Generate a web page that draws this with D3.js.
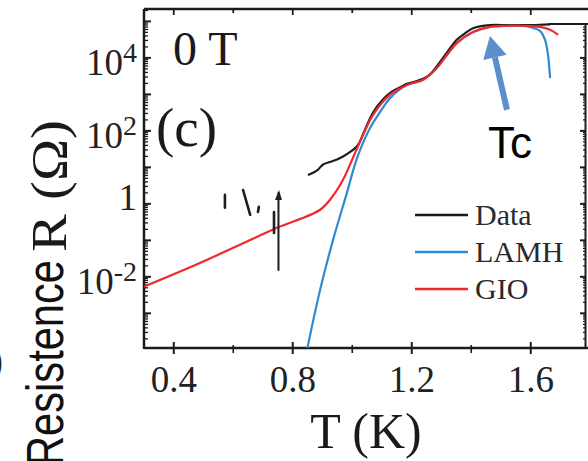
<!DOCTYPE html>
<html><head><meta charset="utf-8">
<script src="https://cdn.jsdelivr.net/npm/d3@7"></script>
<style>body{margin:0;background:#fff}svg{display:block}</style>
</head><body>
<svg id="c" width="588" height="461"></svg>
<script>
// ---- data (T in K, R in Ohm) ----
const dataT = [0.851,0.882,0.902,0.925,0.949,0.969,0.992,1.016,1.026,1.046,1.070,1.100,1.127,1.160,1.184,1.211,1.238,1.261,1.285,1.318,1.352,1.379,1.406,1.463,1.520,1.574,1.631,1.665];
const dataR = [6.2,8.3,12.0,14.0,16.5,19.8,26.0,38,52,125,320,680,1100,1550,1950,2250,2700,3500,6000,1.4e4,3.2e4,4.7e4,6.5e4,7.9e4,7.9e4,7.9e4,8.1e4,8.3e4];
const lamhT = [0.848,0.892,0.935,0.982,1.016,1.060,1.103,1.127,1.184,1.238,1.285,1.318,1.352,1.406,1.463,1.520,1.574,1.608,1.631,1.648,1.658,1.665];
const lamhR = [1e-4,4.4e-3,0.10,2.0,18,120,430,790,1820,2510,5370,1.2e4,2.57e4,5.1e4,7.1e4,7.6e4,7.6e4,6.6e4,5.5e4,3.1e4,1.2e4,2800];
const gioT = [0.300,0.488,0.623,0.747,0.892,0.935,0.969,0.992,1.026,1.070,1.127,1.184,1.238,1.285,1.318,1.352,1.406,1.463,1.520,1.574,1.631,1.665,1.692];
const gioR = [5.4e-3,2.4e-2,7.6e-2,0.22,0.69,1.66,4.6,11.7,50,275,980,1820,2510,5370,1.2e4,2.57e4,5.1e4,7.1e4,7.6e4,7.6e4,7.1e4,5.9e4,4.3e4];
// scattered low-T data strokes
const scatT1 = [0.572,0.633,0.683,0.737,0.752];
const scatT2 = [0.572,0.657,0.686,0.737,0.752];
const scatR1 = [0.78,2.4,0.60,0.16,0.0155];
const scatR2 = [1.78,0.50,0.83,0.60,2.0];
const xTicks = [0.4,0.8,1.2,1.6];
const xMinor = [0.6,1.0,1.4];
const xTopTicks = [0.4,0.6,0.8,1.0,1.2,1.4,1.6];
const yLabelExp = [4,2,0,-2];
const yMajorExp = [-3,-2,-1,0,1,2,3,4,5];
const legendNames = ["Data","LAMH","GIO"];
const legendColors = ["#1a1a1a","#2f8ad3","#ee2a2f"];
const arrowT = [1.520,1.463], arrowR = [380,4.0e4];

const svg = d3.select("#c");
const x = d3.scaleLinear().domain([0.3,1.8]).range([144,590.25]);
const y = d3.scaleLog().domain([Math.pow(10,-3.95),Math.pow(10,5.34)]).range([348,9]);
const axisCol = "#1c1c1c";
const serif = "'Liberation Serif','Times New Roman',serif";
const sans = "'Liberation Sans',Arial,sans-serif";

svg.append("defs").append("clipPath").attr("id","clip")
  .append("rect").attr("x",144).attr("y",9).attr("width",444).attr("height",339);

// frame lines
svg.append("line").attr("x1",144).attr("x2",588).attr("y1",9).attr("y2",9).attr("stroke",axisCol).attr("stroke-width",2.5);
svg.append("line").attr("x1",144).attr("x2",588).attr("y1",348).attr("y2",348).attr("stroke",axisCol).attr("stroke-width",2.5);
svg.append("line").attr("x1",144).attr("x2",144).attr("y1",9).attr("y2",349).attr("stroke",axisCol).attr("stroke-width",2.5);
// neighbouring panel frame at the right
svg.append("line").attr("x1",x(1.66)).attr("x2",588).attr("y1",24).attr("y2",24).attr("stroke",axisCol).attr("stroke-width",2.2);
svg.append("line").attr("x1",585.5).attr("x2",585.5).attr("y1",24).attr("y2",348).attr("stroke",axisCol).attr("stroke-width",2);

// y ticks (left, inward) major + minor
const minorY = [];
for (let e=-4;e<=5;e++) for (let m=2;m<=9;m++){const v=m*Math.pow(10,e); if(v>=y.domain()[0]&&v<=y.domain()[1]) minorY.push(v);}
svg.append("g").selectAll("line").data(yMajorExp).join("line")
  .attr("x1",144).attr("x2",151).attr("y1",d=>y(Math.pow(10,d))).attr("y2",d=>y(Math.pow(10,d)))
  .attr("stroke",axisCol).attr("stroke-width",2);
svg.append("g").selectAll("line").data(minorY).join("line")
  .attr("x1",144).attr("x2",148).attr("y1",d=>y(d)).attr("y2",d=>y(d))
  .attr("stroke",axisCol).attr("stroke-width",1.3);
// right neighbour ticks
svg.append("g").selectAll("line").data(yMajorExp.filter(d=>y(Math.pow(10,d))>26)).join("line")
  .attr("x1",580).attr("x2",586).attr("y1",d=>y(Math.pow(10,d))).attr("y2",d=>y(Math.pow(10,d)))
  .attr("stroke",axisCol).attr("stroke-width",2);
svg.append("g").selectAll("line").data(minorY.filter(d=>y(d)>26)).join("line")
  .attr("x1",583).attr("x2",586).attr("y1",d=>y(d)).attr("y2",d=>y(d))
  .attr("stroke",axisCol).attr("stroke-width",1.2);

// y labels
const yl = svg.append("g").selectAll("text").data(yLabelExp).join("text")
  .attr("x",137).attr("y",d=>y(Math.pow(10,d)) + (d===0?6:17))
  .attr("text-anchor","end").attr("font-family",serif).attr("font-size",37).attr("fill","#222");
yl.each(function(d){
  const t=d3.select(this);
  if(d===0){t.text("1");}
  else {t.append("tspan").text("10"); t.append("tspan").attr("dy",-13).attr("font-size",28).text(String(d));}
});

// x ticks
svg.append("g").selectAll("line").data(xTicks).join("line")
  .attr("x1",d=>x(d)).attr("x2",d=>x(d)).attr("y1",342).attr("y2",354).attr("stroke",axisCol).attr("stroke-width",2);
svg.append("g").selectAll("line").data(xMinor).join("line")
  .attr("x1",d=>x(d)).attr("x2",d=>x(d)).attr("y1",345).attr("y2",353).attr("stroke",axisCol).attr("stroke-width",1.6);
svg.append("g").selectAll("line").data(xTopTicks).join("line")
  .attr("x1",d=>x(d)).attr("x2",d=>x(d)).attr("y1",9).attr("y2",d=>[0.4,0.8,1.2,1.6].includes(d)?15:13)
  .attr("stroke",axisCol).attr("stroke-width",1.8);
svg.append("g").selectAll("text").data(xTicks).join("text")
  .attr("x",d=>x(d)).attr("y",392).attr("text-anchor","middle")
  .attr("font-family",serif).attr("font-size",37).attr("fill","#222").text(d=>d.toFixed(1));

// axis titles
svg.append("text").attr("x",366).attr("y",448).attr("text-anchor","middle")
  .attr("font-family",serif).attr("font-size",50).attr("fill","#1a1a1a").text("T (K)");
svg.append("text").attr("transform","translate(66,252) rotate(-90)")
  .attr("font-family",serif).attr("font-size",50).attr("fill","#1a1a1a")
  .attr("textLength",132).attr("lengthAdjust","spacingAndGlyphs").text("R (Ω)");
svg.append("text").attr("transform","translate(63,466) rotate(-90)")
  .attr("font-family",sans).attr("font-size",52).attr("fill","#111")
  .attr("textLength",206).attr("lengthAdjust","spacingAndGlyphs").text("Resistence");
svg.append("text").attr("x",-9).attr("y",374).attr("font-family",sans).attr("font-size",38).attr("fill","#222").text(")");

// panel annotations
svg.append("text").attr("x",173).attr("y",65).attr("font-family",serif).attr("font-size",48).attr("fill","#1a1a1a").text("0 T");
svg.append("text").attr("x",156).attr("y",146).attr("font-family",serif).attr("font-size",55).attr("fill","#1a1a1a").text("(c)");

// curves
const plot = svg.append("g").attr("clip-path","url(#clip)");
const line = d3.line().x(d=>x(d[0])).y(d=>y(d[1])).curve(d3.curveCatmullRom.alpha(0.5));
const zip = (a,b)=>a.map((v,i)=>[v,b[i]]);
plot.append("path").datum(zip(lamhT,lamhR)).attr("d",line).attr("fill","none").attr("stroke","#2f8ad3").attr("stroke-width",2.2);
plot.append("path").datum(zip(dataT,dataR)).attr("d",line).attr("fill","none").attr("stroke","#1e1e1e").attr("stroke-width",2.2);
plot.append("path").datum(zip(gioT,gioR)).attr("d",line).attr("fill","none").attr("stroke","#ee2a2f").attr("stroke-width",2.2);

// scattered data strokes
plot.append("g").selectAll("line").data(scatT1.map((t,i)=>i)).join("line")
  .attr("x1",i=>x(scatT1[i])).attr("x2",i=>x(scatT2[i]))
  .attr("y1",i=>y(scatR1[i])).attr("y2",i=>y(scatR2[i]))
  .attr("stroke","#1e1e1e").attr("stroke-width",i=>i===4?2:2.6).attr("stroke-linecap","round");
const last = scatT1.length-1;
plot.append("path")
  .attr("d",d3.line()([[x(scatT1[last])-3.5,y(scatR2[last])+7],[x(scatT1[last])+0.5,y(scatR2[last])-3],[x(scatT1[last])+3.5,y(scatR2[last])+7]]))
  .attr("fill","#1e1e1e");

// legend
const lg = svg.append("g");
legendNames.forEach((n,i)=>{
  const ly = 215 + i*37;
  lg.append("line").attr("x1",415).attr("x2",468).attr("y1",ly).attr("y2",ly).attr("stroke",legendColors[i]).attr("stroke-width",2.5);
  lg.append("text").attr("x",475).attr("y",ly+10).attr("font-family",serif).attr("font-size",30).attr("fill","#2a2a2a").text(n);
});

// Tc arrow
const ax0 = x(arrowT[0]), ay0 = y(arrowR[0]), ax1 = x(arrowT[1]), ay1 = y(arrowR[1]);
const ang = Math.atan2(ay1-ay0, ax1-ax0);
const headLen = 22, headW = 12;
const bx = ax1 - headLen*Math.cos(ang), by = ay1 - headLen*Math.sin(ang);
svg.append("line").attr("x1",ax0).attr("y1",ay0).attr("x2",bx).attr("y2",by)
  .attr("stroke","#5b8ecb").attr("stroke-width",6);
svg.append("path").attr("d",d3.line()([[ax1,ay1],[bx+headW*Math.sin(ang),by-headW*Math.cos(ang)],[bx-headW*Math.sin(ang),by+headW*Math.cos(ang)]])+"Z")
  .attr("fill","#5b8ecb");
svg.append("text").attr("x",488).attr("y",158).attr("font-family",sans).attr("font-size",44).attr("fill","#000").text("Tc");
</script>
</body></html>
